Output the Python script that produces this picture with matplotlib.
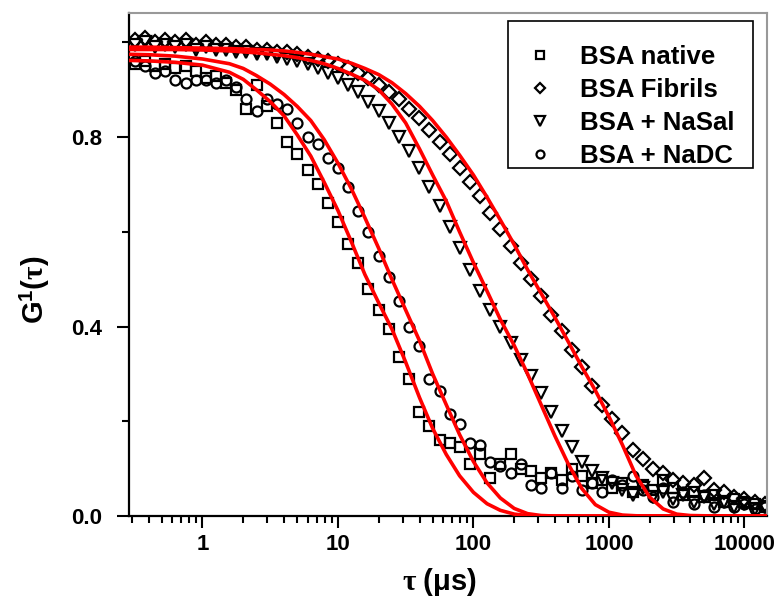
import matplotlib
matplotlib.use('Agg')
import matplotlib.pyplot as plt
from matplotlib.patches import Rectangle
from matplotlib.ticker import FixedLocator, NullFormatter, LogLocator

plt.rcParams['font.family'] = ['Liberation Sans', 'DejaVu Sans']
plt.rcParams['font.weight'] = 'bold'
plt.rcParams['mathtext.fontset'] = 'custom'
plt.rcParams['mathtext.rm'] = 'Liberation Serif'
plt.rcParams['mathtext.bf'] = 'Liberation Sans:bold'
plt.rcParams['mathtext.it'] = 'Liberation Serif:italic'

# correlator lag times (us)
tau = [0.316, 0.376, 0.447, 0.531, 0.631, 0.750, 0.891, 1.06, 1.26, 1.50,
       1.78, 2.11, 2.51, 2.99, 3.55, 4.22, 5.01, 5.96, 7.08, 8.41,
       10.0, 11.9, 14.1, 16.8, 20.0, 23.7, 28.2, 33.5, 39.8, 47.3,
       56.2, 66.8, 79.4, 94.4, 112, 133, 158, 188, 224, 266,
       316, 376, 447, 531, 631, 750, 891, 1059, 1259, 1496,
       1778, 2113, 2512, 2985, 3548, 4217, 5012, 5957, 7079, 8414,
       10000, 11885, 14125]

native = [0.955, 0.96, 0.95, 0.955, 0.945, 0.95, 0.94, 0.925, 0.93, 0.915,
          0.90, 0.86, 0.91, 0.865, 0.83, 0.79, 0.765, 0.73, 0.70, 0.66,
          0.62, 0.575, 0.535, 0.48, 0.435, 0.395, 0.335, 0.29, 0.22, 0.19,
          0.16, 0.155, 0.145, 0.11, 0.13, 0.08, 0.11, 0.13, 0.10, 0.095,
          0.08, 0.09, 0.075, 0.10, 0.085, 0.07, 0.075, 0.06, 0.07, 0.05,
          0.065, 0.055, 0.075, 0.06, 0.045, 0.05, 0.04, 0.045, 0.03, 0.035,
          0.03, 0.025, 0.02]

fibrils = [1.005, 1.01, 1.0, 1.005, 1.0, 1.005, 0.995, 1.0, 0.995, 0.995,
           0.99, 0.99, 0.985, 0.985, 0.98, 0.98, 0.975, 0.97, 0.965, 0.96,
           0.955, 0.945, 0.935, 0.925, 0.91, 0.895, 0.88, 0.86, 0.84, 0.815,
           0.79, 0.765, 0.735, 0.705, 0.675, 0.64, 0.605, 0.57, 0.535, 0.50,
           0.465, 0.425, 0.39, 0.35, 0.315, 0.275, 0.235, 0.205, 0.175, 0.14,
           0.12, 0.10, 0.09, 0.075, 0.07, 0.065, 0.08, 0.055, 0.05, 0.04,
           0.035, 0.03, 0.025]

nasal = [0.995, 1.0, 0.99, 0.995, 0.99, 0.995, 0.985, 0.99, 0.985, 0.985,
         0.98, 0.98, 0.975, 0.975, 0.97, 0.965, 0.96, 0.955, 0.945, 0.935,
         0.925, 0.91, 0.895, 0.875, 0.855, 0.83, 0.80, 0.77, 0.735, 0.695,
         0.655, 0.61, 0.565, 0.52, 0.475, 0.435, 0.40, 0.365, 0.33, 0.295,
         0.26, 0.22, 0.18, 0.145, 0.115, 0.095, 0.08, 0.07, 0.055, 0.045,
         0.06, 0.04, 0.05, 0.035, 0.045, 0.03, 0.04, 0.025, 0.03, 0.02,
         0.025, 0.015, 0.02]

nadc = [0.96, 0.95, 0.935, 0.94, 0.92, 0.915, 0.92, 0.92, 0.915, 0.92,
        0.905, 0.88, 0.855, 0.88, 0.87, 0.86, 0.83, 0.80, 0.785, 0.755,
        0.735, 0.695, 0.645, 0.60, 0.55, 0.505, 0.455, 0.40, 0.36, 0.29,
        0.265, 0.215, 0.195, 0.155, 0.15, 0.115, 0.105, 0.09, 0.11, 0.065,
        0.06, 0.09, 0.06, 0.085, 0.055, 0.07, 0.05, 0.075, 0.065, 0.085,
        0.055, 0.04, 0.06, 0.03, 0.05, 0.025, 0.045, 0.02, 0.03, 0.02,
        0.025, 0.015, 0.02]

# fitted curves (red)
tau_fit = [0.28, 0.4, 0.63, 1.0, 1.58, 2.0, 2.5, 3.16, 4.0, 5.0,
           6.3, 7.9, 10, 12.6, 15.8, 20, 25, 31.6, 40, 50,
           63, 79, 100, 126, 158, 200, 251, 316, 398, 501,
           631, 794, 1000, 1259, 1585, 1995, 2512, 3162, 3981, 6310,
           10000, 15849]

fit_native = [0.962, 0.961, 0.958, 0.952, 0.937, 0.922, 0.90, 0.875, 0.845, 0.805,
              0.76, 0.705, 0.645, 0.578, 0.51, 0.45, 0.395, 0.325, 0.25, 0.185,
              0.13, 0.085, 0.05, 0.026, 0.012, 0.004, 0.001, 0.0, 0.0, 0.0,
              0.0, 0.0, 0.0, 0.0, 0.0, 0.0, 0.0, 0.0, 0.0, 0.0,
              0.0, 0.0]
fit_nadc = [0.975, 0.974, 0.971, 0.965, 0.955, 0.945, 0.93, 0.912, 0.89, 0.865,
            0.835, 0.795, 0.745, 0.69, 0.63, 0.565, 0.50, 0.435, 0.37, 0.30,
            0.235, 0.172, 0.115, 0.07, 0.038, 0.016, 0.005, 0.001, 0.0, 0.0,
            0.0, 0.0, 0.0, 0.0, 0.0, 0.0, 0.0, 0.0, 0.0, 0.0,
            0.0, 0.0]
fit_nasal = [0.985, 0.985, 0.985, 0.984, 0.982, 0.98, 0.978, 0.975, 0.972, 0.968,
             0.962, 0.955, 0.945, 0.933, 0.92, 0.90, 0.87, 0.83, 0.775, 0.72,
             0.665, 0.60, 0.535, 0.475, 0.415, 0.36, 0.30, 0.235, 0.17, 0.11,
             0.058, 0.024, 0.008, 0.002, 0.0005, 0.0, 0.0, 0.0, 0.0, 0.0,
             0.0, 0.0]
fit_fibrils = [0.99, 0.99, 0.989, 0.988, 0.987, 0.986, 0.985, 0.984, 0.982, 0.979,
               0.975, 0.97, 0.965, 0.956, 0.945, 0.932, 0.915, 0.892, 0.865, 0.835,
               0.80, 0.762, 0.72, 0.673, 0.625, 0.573, 0.52, 0.47, 0.42, 0.368,
               0.315, 0.265, 0.21, 0.15, 0.085, 0.04, 0.015, 0.004, 0.001, 0.0,
               0.0, 0.0]

fig = plt.figure(figsize=(7.82, 6.01), dpi=100)
ax = fig.add_axes([0.165, 0.1414, 0.8159, 0.8369])

mk = dict(ls='none', mfc='none', mec='black', mew=1.6)
ax.plot(tau, native, marker='s', ms=7.0, label='BSA native', **mk)
ax.plot(tau, fibrils, marker='D', ms=6.8, label='BSA Fibrils', **mk)
ax.plot(tau, nasal, marker='v', ms=8.8, label='BSA + NaSal', **mk)
ax.plot(tau, nadc, marker='o', ms=7.2, label='BSA + NaDC', **mk)

for f in [fit_native, fit_nadc, fit_nasal, fit_fibrils]:
    ax.plot(tau_fit, f, color='red', lw=2.6, zorder=5)

ax.set_xscale('log')
ax.set_xlim(0.287, 14700)
ax.set_ylim(0, 1.062)
ax.xaxis.set_major_locator(FixedLocator([1, 10, 100, 1000, 10000]))
ax.set_xticklabels(['1', '10', '100', '1000', '10000'])
ax.xaxis.set_minor_locator(LogLocator(base=10, subs=range(2, 10)))
ax.xaxis.set_minor_formatter(NullFormatter())
ax.set_yticks([0.0, 0.4, 0.8])
ax.set_yticklabels(['0.0', '0.4', '0.8'])
ax.yaxis.set_minor_locator(FixedLocator([0.2, 0.6, 1.0]))

ax.tick_params(which='major', direction='out', length=8.6, width=1.5, labelsize=16)
ax.tick_params(which='minor', direction='out', length=5, width=1.5)
ax.tick_params(axis='x', which='major', pad=4)
ax.tick_params(axis='y', which='major', pad=11)
ax.tick_params(top=False, right=False, which='both')

for s in ['left', 'bottom']:
    ax.spines[s].set_linewidth(1.6)
    ax.spines[s].set_color('black')
for s in ['top', 'right']:
    ax.spines[s].set_linewidth(1.5)
    ax.spines[s].set_color('#999999')

ax.set_xlabel(r'$\mathrm{\tau}\ \mathbf{(\mu s)}$', fontsize=21)
ax.xaxis.set_label_coords(0.486, -0.099)
ax.set_ylabel(r'$\mathbf{G}^{\mathbf{1}}\mathbf{(}\mathrm{\tau}\mathbf{)}$', fontsize=21)
ax.yaxis.set_label_coords(-0.12, 0.449)

# legend frame drawn separately (more room above the first row, as in the original)
ax.add_patch(Rectangle((0.594, 0.692), 0.384, 0.292, transform=ax.transAxes,
                       facecolor='white', edgecolor='black', lw=1.2, zorder=6))
leg = ax.legend(loc='upper left', bbox_to_anchor=(0.624, 0.936), fontsize=18.5,
                frameon=False, markerscale=0.8, handlelength=1.0, handletextpad=1.06,
                labelspacing=0.35, borderpad=0, borderaxespad=0)
leg.set_zorder(7)

fig.savefig('out.png', dpi=100)
